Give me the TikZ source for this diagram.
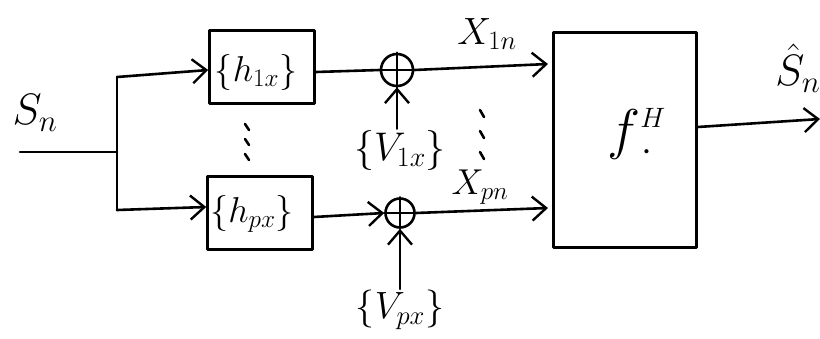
\RequirePackage{fix-cm}
\documentclass[tikz,border=0pt]{standalone}
\usetikzlibrary{arrows.meta}
\begin{document}
\begin{tikzpicture}[x=1pt,y=-1pt,
  line width=2.6pt, line cap=round, line join=round,
  arr/.style={-{Straight Barb[length=14pt,width=24pt,line width=2.4pt]}},
  blockbox/.style={draw, minimum width=105pt, minimum height=73pt, inner sep=0pt},
  bigbox/.style={draw, minimum width=143pt, minimum height=215pt, inner sep=0pt},
  sumnode/.style={draw, circle, minimum size=32pt, inner sep=0pt},
  lbl/.style={inner sep=0pt},
  fs/.style={font=\fontsize{#1}{#1}\selectfont}]
\useasboundingbox (0,0) rectangle (820,338);
\clip (0,0) rectangle (820,338);

% input signal and branch point
\coordinate (in) at (20,152);
\coordinate (br) at (117,152);
\coordinate (brtop) at (117,77);
\coordinate (brbot) at (117,210);
\node[lbl, fs=44] (sn) at (35,113) {$S_n$};

% filter blocks
\node[blockbox] (h1) at (262,67) {};
\node[lbl, fs=36] (h1t) at (256,72) {$\{h_{1x}\}$};
\node[blockbox] (hp) at (260,213) {};
\node[lbl, fs=36] (hpt) at (252,214) {$\{h_{px}\}$};

% adders
\node[sumnode] (s1) at (397,70) {};
\node[sumnode, minimum size=29pt] (s2) at (400,213) {};
\draw (s1.north) -- (s1.south) (s1.west) -- (s1.east);
\draw (s2.north) -- (s2.south) (s2.west) -- (s2.east);

% noise inputs
\node[lbl, fs=40] (v1) at (400,150) {$\{V_{1x}\}$};
\node[lbl, fs=38] (vp) at (400,310) {$\{V_{px}\}$};

% combiner
\node[bigbox] (f) at (625,140) {};
\node[lbl, fs=56, anchor=base west] (ft) at (606,148) {$f^{\scriptscriptstyle H}_{\hspace{0.12em}\cdot}$};

% outputs
\coordinate (x1end) at (548,64);
\coordinate (xpend) at (548,208);
\node[lbl, fs=38] (x1) at (487,34) {$X_{1n}$};
\node[lbl, fs=36] (xp) at (480,187) {$X_{pn}$};
\coordinate (outend) at (820,119);
\node[lbl, fs=44, anchor=west] (sh) at (774,68) {$\hat{S}_n$};

% continuation marks between the branches
\foreach \yy in {0,15,30} {
  \draw (245,124+\yy) -- (249,130+\yy);
  \draw (480,110+\yy*1.4) -- (484,117+\yy*1.4);
}

% connectors
\draw (in) -- (br);
\draw (brtop) -- (brbot);
\draw[arr] (brtop) -- (h1.west |- 0,70);
\draw[arr] (brbot) -- (hp.west |- 0,207);
\draw (h1.east |- 0,72) -- (s1.west);
\draw[arr] (hp.east |- 0,217) -- (s2.west);
\draw[arr] (v1.north -| s1.south) -- (s1.south);
\draw[arr] (vp.north -| s2.south) -- (s2.south);
\draw[arr] (s1.east) -- (x1end);
\draw[arr] (s2.east) -- (xpend);
\draw[arr] (f.east |- 0,127) -- (outend);
\end{tikzpicture}
\end{document}
